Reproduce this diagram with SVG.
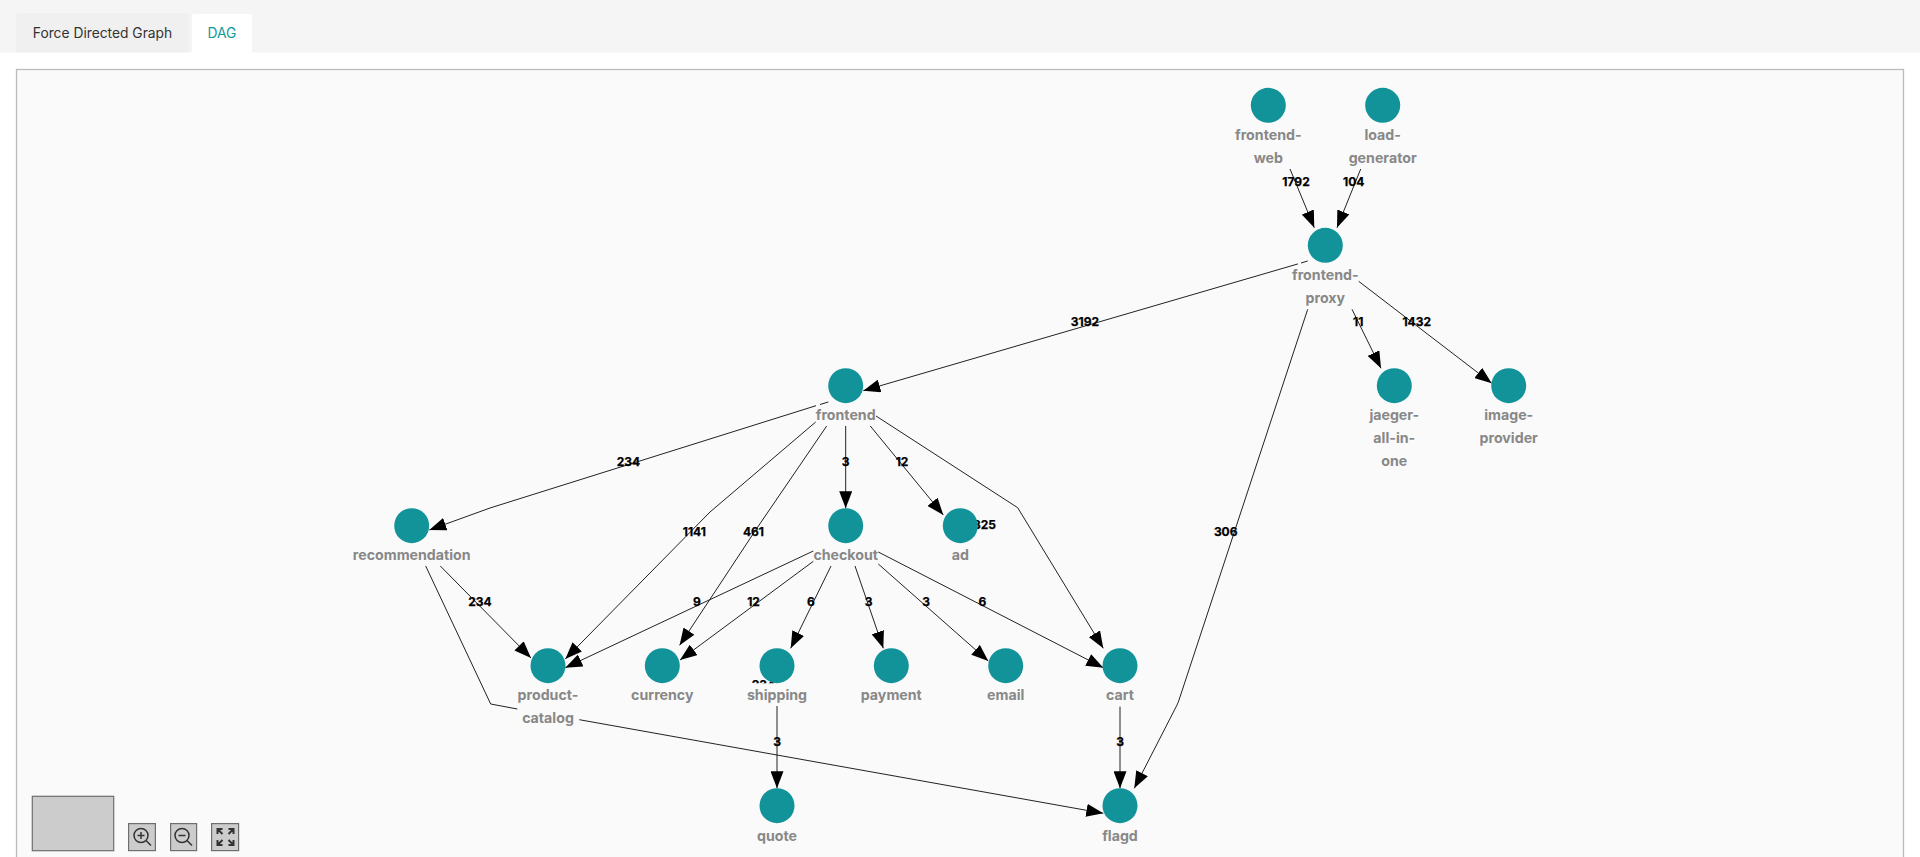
<svg xmlns="http://www.w3.org/2000/svg" width="1920" height="857" viewBox="0 0 1920 857">
<style>
.e{fill:none;stroke:#222;stroke-width:1;marker-end:url(#a)}
.el{font:700 12px Inter,"Liberation Sans",sans-serif;fill:#000;stroke:#000;stroke-width:.25;text-anchor:middle}
.c{fill:#12939a}
.n{font:700 14.200px Inter,"Liberation Sans",sans-serif;fill:#888;text-anchor:middle}
.b{fill:#ccc;stroke:#6e6e6e;stroke-width:1.2}
.i{fill:none;stroke:#333;stroke-width:1.500}
.tab{font:400 13.800px Inter,"Liberation Sans",sans-serif;text-anchor:middle}
</style>
<defs><marker id="a" markerUnits="userSpaceOnUse" markerWidth="17" markerHeight="13" refX="17" refY="6.500" orient="auto"><path d="M0 0L17 6.500L0 13Z" fill="#000"/></marker></defs>
<rect width="1920" height="857" fill="#fff"/>
<g id="tabs">
<rect width="1920" height="52.500" fill="#f5f5f5"/>
<rect x="16" y="13" width="173" height="39.500" rx="2" fill="#f0f0f0"/>
<rect x="192" y="14" width="60" height="39" rx="2" fill="#fff"/>
<text class="tab" x="102.500" y="38" fill="#333">Force Directed Graph</text>
<text class="tab" x="222" y="38" fill="#0f9a9a" font-weight="500">DAG</text>
</g>
<rect id="canvas" x="16.500" y="69.500" width="1887" height="800" fill="#fafafa" stroke="#bbb" stroke-width="1.300"/>
<g id="connectors">
<path class="e" d="M1290 169L1314.300 227.700"/>
<path class="e" d="M1360.700 169L1337 227.700"/>
<path class="e" d="M1307.700 261L1301 263M1298 263.900L863.300 390.700"/>
<path class="e" d="M1352 309.300L1381 368.300"/>
<path class="e" d="M1358.700 281.300L1491.700 383.300"/>
<path class="e" d="M1307.700 309.300L1179 700Q1178 703 1177 705L1134.300 788.300"/>
<path class="e" d="M828.300 402L820 404.500M816 405.700L490 508L429.300 530"/>
<path class="e" d="M815.700 422L710 512L565.300 659"/>
<path class="e" d="M826.700 426L755 531L679.600 645.300"/>
<path class="e" d="M845.700 426V508.300"/>
<path class="e" d="M870.300 426L943.300 515"/>
<path class="e" d="M876 416L1017.700 507.700L1103.300 648.300"/>
<path class="e" d="M813.300 551L565.300 667.700"/>
<path class="e" d="M813.300 561.300L680 660"/>
<path class="e" d="M831 566L790.700 648.300"/>
<path class="e" d="M855 566L883.300 648.300"/>
<path class="e" d="M878.300 564L988.300 661"/>
<path class="e" d="M878.300 552L1103.300 667.700"/>
<path class="e" d="M440.300 566L531 658"/>
<path class="e" d="M425.700 566L490.700 704L517.300 709M579.300 719.700L1103.300 813.300"/>
<path class="e" d="M777 706V788.300"/>
<path class="e" d="M1120 706.700V788.300"/>
<g>
<text class="el" x="1296" y="186">1792</text>
<text class="el" x="1353.700" y="186">104</text>
<text class="el" x="1085" y="326">3192</text>
<text class="el" x="1358.300" y="326">11</text>
<text class="el" x="1416.700" y="326">1432</text>
<text class="el" x="1225.700" y="536">306</text>
<text class="el" x="628.500" y="466">234</text>
<text class="el" x="694.300" y="535.500">1141</text>
<text class="el" x="753.500" y="536">461</text>
<text class="el" x="845.700" y="466">3</text>
<text class="el" x="902" y="466">12</text>
<text class="el" x="984.500" y="529">325</text>
<text class="el" x="697" y="606">9</text>
<text class="el" x="753.500" y="606">12</text>
<text class="el" x="811" y="606">6</text>
<text class="el" x="868.500" y="606">3</text>
<text class="el" x="926" y="606">3</text>
<text class="el" x="982.500" y="606">6</text>
<text class="el" x="480" y="606">234</text>
<text class="el" x="763.500" y="689">234</text>
<text class="el" x="777" y="746">3</text>
<text class="el" x="1120" y="746">3</text>
</g>
</g>
<g id="frontend-web"><circle class="c" cx="1268.300" cy="105.300" r="17.500"/><text class="n" x="1268.300" y="140">frontend-</text><text class="n" x="1268.300" y="163">web</text></g>
<g id="load-generator"><circle class="c" cx="1382.700" cy="105.300" r="17.500"/><text class="n" x="1382.700" y="140">load-</text><text class="n" x="1382.700" y="163">generator</text></g>
<g id="frontend-proxy"><circle class="c" cx="1325.300" cy="245.300" r="17.500"/><text class="n" x="1325.300" y="280">frontend-</text><text class="n" x="1325.300" y="303">proxy</text></g>
<g id="frontend"><circle class="c" cx="845.700" cy="385.700" r="17.500"/><text class="n" x="845.700" y="420">frontend</text></g>
<g id="jaeger-all-in-one"><circle class="c" cx="1394.300" cy="385.700" r="17.500"/><text class="n" x="1394.300" y="420">jaeger-</text><text class="n" x="1394.300" y="443">all-in-</text><text class="n" x="1394.300" y="466">one</text></g>
<g id="image-provider"><circle class="c" cx="1508.700" cy="385.700" r="17.500"/><text class="n" x="1508.700" y="420">image-</text><text class="n" x="1508.700" y="443">provider</text></g>
<g id="recommendation"><circle class="c" cx="411.700" cy="525.700" r="17.500"/><text class="n" x="411.700" y="560">recommendation</text></g>
<g id="checkout"><circle class="c" cx="845.700" cy="525.700" r="17.500"/><text class="n" x="845.700" y="560">checkout</text></g>
<g id="ad"><circle class="c" cx="960.300" cy="525.700" r="17.500"/><text class="n" x="960.300" y="560">ad</text></g>
<g id="product-catalog"><circle class="c" cx="548" cy="665.700" r="17.500"/><text class="n" x="548" y="700">product-</text><text class="n" x="548" y="723">catalog</text></g>
<g id="currency"><circle class="c" cx="662.300" cy="665.700" r="17.500"/><text class="n" x="662.300" y="700">currency</text></g>
<g id="shipping"><rect x="745" y="683.300" width="64" height="22" fill="#fafafa"/><circle class="c" cx="777" cy="665.700" r="17.500"/><text class="n" x="777" y="700">shipping</text></g>
<g id="payment"><circle class="c" cx="891.300" cy="665.700" r="17.500"/><text class="n" x="891.300" y="700">payment</text></g>
<g id="email"><circle class="c" cx="1005.700" cy="665.700" r="17.500"/><text class="n" x="1005.700" y="700">email</text></g>
<g id="cart"><circle class="c" cx="1120" cy="665.700" r="17.500"/><text class="n" x="1120" y="700">cart</text></g>
<g id="quote"><circle class="c" cx="777" cy="805.700" r="17.500"/><text class="n" x="777" y="840.500">quote</text></g>
<g id="flagd"><circle class="c" cx="1120" cy="805.700" r="17.500"/><text class="n" x="1120" y="840.500">flagd</text></g>
<g id="controls">
<rect class="b" x="32.300" y="796.300" width="81.400" height="54.400"/>
<rect class="b" x="128.600" y="823.600" width="26.800" height="27"/>
<rect class="b" x="170.600" y="823.600" width="26" height="27"/>
<rect class="b" x="211.600" y="823.600" width="27" height="27"/>
<circle class="i" cx="141" cy="835.500" r="7"/><path class="i" d="M137.500 835.500H144.500M141 832V839M146 840.500L151 845.500"/>
<circle class="i" cx="182" cy="835.500" r="7"/><path class="i" d="M178.500 835.500H185.500M187 840.500L192 845.500"/>
<path class="i" style="stroke-width:2" d="M217.500 834V829H222.500M217.500 829L222.500 834M233.500 834V829H228.500M233.500 829L228.500 834M217.500 840V845H222.500M217.500 845L222.500 840M233.500 840V845H228.500M233.500 845L228.500 840"/>
</g>
</svg>
